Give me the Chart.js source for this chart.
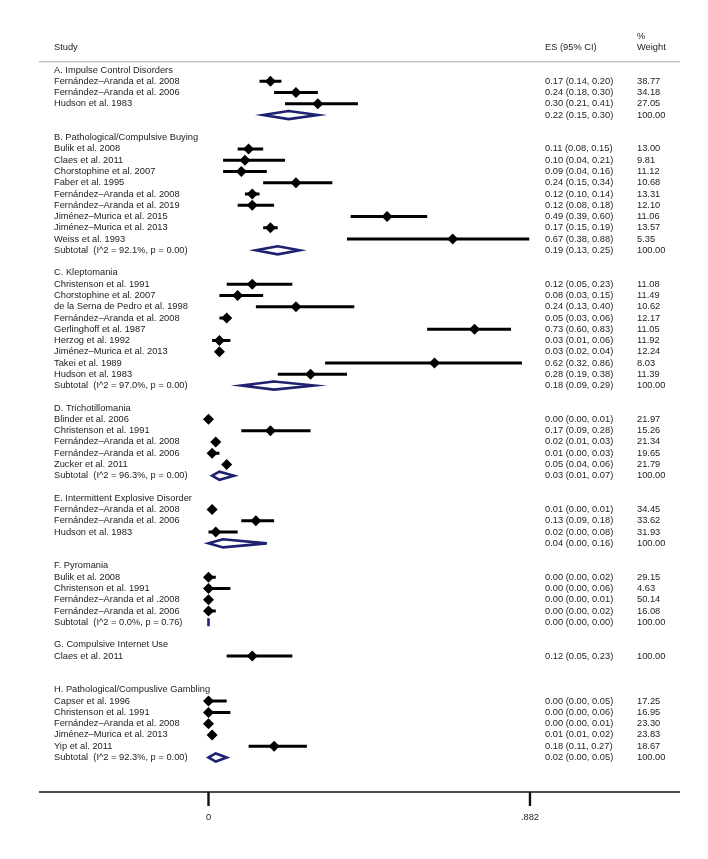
<!DOCTYPE html>
<html>
<head>
<meta charset="utf-8">
<title>Forest plot</title>
<script src="https://cdn.jsdelivr.net/npm/chart.js@4.4.1/dist/chart.umd.min.js"></script>
<style>
  html, body { margin: 0; padding: 0; background: #fff; }
  canvas { display: block; }
</style>
</head>
<body>
<canvas id="forestChart" width="708" height="859"></canvas>
<script>
// one entry per row of the plot, top to bottom
const rowType = [
    'head', 'study', 'study', 'study', 'sub', 'blank',
    'head', 'study', 'study', 'study', 'study', 'study', 'study', 'study', 'study', 'study', 'sub', 'blank',
    'head', 'study', 'study', 'study', 'study', 'study', 'study', 'study', 'study', 'study', 'sub', 'blank',
    'head', 'study', 'study', 'study', 'study', 'study', 'sub', 'blank',
    'head', 'study', 'study', 'study', 'sub', 'blank',
    'head', 'study', 'study', 'study', 'study', 'sub', 'blank',
    'head', 'study', 'blank', 'blank',
    'head', 'study', 'study', 'study', 'study', 'study', 'sub'
];

const rowLabels = [
    'A. Impulse Control Disorders', 'Fernández–Aranda et al. 2008', 'Fernández–Aranda et al. 2006', 'Hudson et al. 1983', '', '',
    'B. Pathological/Compulsive Buying', 'Bulik et al. 2008', 'Claes et al. 2011', 'Chorstophine et al. 2007', 'Faber et al. 1995',
    'Fernández–Aranda et al. 2008', 'Fernández–Aranda et al. 2019', 'Jiménez–Murica et al. 2015', 'Jiménez–Murica et al. 2013',
    'Weiss et al. 1993', 'Subtotal  (I^2 = 92.1%, p = 0.00)', '',
    'C. Kleptomania', 'Christenson et al. 1991', 'Chorstophine et al. 2007', 'de la Serna de Pedro et al. 1998',
    'Fernández–Aranda et al. 2008', 'Gerlinghoff et al. 1987', 'Herzog et al. 1992', 'Jiménez–Murica et al. 2013',
    'Takei et al. 1989', 'Hudson et al. 1983', 'Subtotal  (I^2 = 97.0%, p = 0.00)', '',
    'D. Trichotillomania', 'Blinder et al. 2006', 'Christenson et al. 1991', 'Fernández–Aranda et al. 2008',
    'Fernández–Aranda et al. 2006', 'Zucker et al. 2011', 'Subtotal  (I^2 = 96.3%, p = 0.00)', '',
    'E. Intermittent Explosive Disorder', 'Fernández–Aranda et al. 2008', 'Fernández–Aranda et al. 2006', 'Hudson et al. 1983', '', '',
    'F. Pyromania', 'Bulik et al. 2008', 'Christenson et al. 1991', 'Fernández–Aranda et al .2008', 'Fernández–Aranda et al. 2006',
    'Subtotal  (I^2 = 0.0%, p = 0.76)', '',
    'G. Compulsive Internet Use', 'Claes et al. 2011', '', '',
    'H. Pathological/Compuslive Gambling', 'Capser et al. 1996', 'Christenson et al. 1991', 'Fernández–Aranda et al. 2008',
    'Jiménez–Murica et al. 2013', 'Yip et al. 2011', 'Subtotal  (I^2 = 92.3%, p = 0.00)'
];

const es = [
    null, 0.17, 0.24, 0.30, 0.22, null,
    null, 0.11, 0.10, 0.09, 0.24, 0.12, 0.12, 0.49, 0.17, 0.67, 0.19, null,
    null, 0.12, 0.08, 0.24, 0.05, 0.73, 0.03, 0.03, 0.62, 0.28, 0.18, null,
    null, 0.00, 0.17, 0.02, 0.01, 0.05, 0.03, null,
    null, 0.01, 0.13, 0.02, 0.04, null,
    null, 0.00, 0.00, 0.00, 0.00, 0.00, null,
    null, 0.12, null, null,
    null, 0.00, 0.00, 0.00, 0.01, 0.18, 0.02
];

const ciLow = [
    null, 0.14, 0.18, 0.21, 0.15, null,
    null, 0.08, 0.04, 0.04, 0.15, 0.10, 0.08, 0.39, 0.15, 0.38, 0.13, null,
    null, 0.05, 0.03, 0.13, 0.03, 0.60, 0.01, 0.02, 0.32, 0.19, 0.09, null,
    null, 0.00, 0.09, 0.01, 0.00, 0.04, 0.01, null,
    null, 0.00, 0.09, 0.00, 0.00, null,
    null, 0.00, 0.00, 0.00, 0.00, 0.00, null,
    null, 0.05, null, null,
    null, 0.00, 0.00, 0.00, 0.01, 0.11, 0.00
];

const ciHigh = [
    null, 0.20, 0.30, 0.41, 0.30, null,
    null, 0.15, 0.21, 0.16, 0.34, 0.14, 0.18, 0.60, 0.19, 0.88, 0.25, null,
    null, 0.23, 0.15, 0.40, 0.06, 0.83, 0.06, 0.04, 0.86, 0.38, 0.29, null,
    null, 0.01, 0.28, 0.03, 0.03, 0.06, 0.07, null,
    null, 0.01, 0.18, 0.08, 0.16, null,
    null, 0.02, 0.06, 0.01, 0.02, 0.00, null,
    null, 0.23, null, null,
    null, 0.05, 0.06, 0.01, 0.02, 0.27, 0.05
];

const weight = [
    null, 38.77, 34.18, 27.05, 100.00, null,
    null, 13.00, 9.81, 11.12, 10.68, 13.31, 12.10, 11.06, 13.57, 5.35, 100.00, null,
    null, 11.08, 11.49, 10.62, 12.17, 11.05, 11.92, 12.24, 8.03, 11.39, 100.00, null,
    null, 21.97, 15.26, 21.34, 19.65, 21.79, 100.00, null,
    null, 34.45, 33.62, 31.93, 100.00, null,
    null, 29.15, 4.63, 50.14, 16.08, 100.00, null,
    null, 100.00, null, null,
    null, 17.25, 16.95, 23.30, 23.83, 18.67, 100.00
];

const axisTicks = [0, 0.882];
const axisTickLabels = ['0', '.882'];

const FONT = '9.3px "Liberation Sans", Arial, Helvetica, sans-serif';
const TEXT_COLOR = '#222';
const NAVY = '#1e2270';
const DIAMOND_HALF = 0.36; // half height of the pooled diamonds, in rows

function buildSeries() {
    const ciPoints = [];
    const markerPoints = [];
    const poolPoints = [];
    for (let i = 0; i < rowType.length; i++) {
        if (rowType[i] === 'study') {
            ciPoints.push({ x: ciLow[i], y: i }, { x: ciHigh[i], y: i }, { x: NaN, y: NaN });
            markerPoints.push({ x: es[i], y: i });
        } else if (rowType[i] === 'sub') {
            poolPoints.push(
                { x: ciLow[i], y: i },
                { x: es[i], y: i - DIAMOND_HALF },
                { x: ciHigh[i], y: i },
                { x: es[i], y: i + DIAMOND_HALF },
                { x: ciLow[i], y: i },
                { x: es[i], y: i - DIAMOND_HALF },
                { x: NaN, y: NaN }
            );
        }
    }
    return { ciPoints, markerPoints, poolPoints };
}

// columns of text and the bottom axis
const forestText = {
    id: 'forestText',
    afterDraw(chart) {
        const ctx = chart.ctx;
        const x = chart.scales.x;
        const y = chart.scales.y;
        const area = chart.chartArea;
        const studyX = 54, esX = 545, wX = 637;

        ctx.save();
        ctx.font = FONT;
        ctx.fillStyle = TEXT_COLOR;
        ctx.textBaseline = 'middle';
        ctx.textAlign = 'left';

        ctx.fillText('Study', studyX, y.getPixelForValue(-2));
        ctx.fillText('ES (95% CI)', esX, y.getPixelForValue(-2));
        ctx.fillText('%', wX, y.getPixelForValue(-3));
        ctx.fillText('Weight', wX, y.getPixelForValue(-2));

        ctx.strokeStyle = '#c4c4c4';
        ctx.lineWidth = 1.5;
        ctx.beginPath();
        ctx.moveTo(area.left, y.getPixelForValue(-0.74));
        ctx.lineTo(area.right, y.getPixelForValue(-0.74));
        ctx.stroke();

        for (let i = 0; i < rowType.length; i++) {
            const py = y.getPixelForValue(i);
            if (rowLabels[i]) ctx.fillText(rowLabels[i], studyX, py);
            if (es[i] !== null) {
                const txt = es[i].toFixed(2) + ' (' + ciLow[i].toFixed(2) + ', ' + ciHigh[i].toFixed(2) + ')';
                ctx.fillText(txt, esX, py);
                ctx.fillText(weight[i].toFixed(2), wX, py);
            }
        }

        // x axis
        ctx.strokeStyle = '#111';
        ctx.lineWidth = 1.7;
        ctx.beginPath();
        ctx.moveTo(area.left, area.bottom);
        ctx.lineTo(area.right, area.bottom);
        ctx.stroke();
        ctx.textAlign = 'center';
        ctx.lineWidth = 2.4;
        for (let t = 0; t < axisTicks.length; t++) {
            const px = x.getPixelForValue(axisTicks[t]);
            ctx.beginPath();
            ctx.moveTo(px, area.bottom);
            ctx.lineTo(px, area.bottom + 14);
            ctx.stroke();
            ctx.fillText(axisTickLabels[t], px, area.bottom + 25);
        }
        ctx.restore();
    }
};

const series = buildSeries();

new Chart(document.getElementById('forestChart'), {
    type: 'scatter',
    data: {
        datasets: [
            {
                label: 'Studies',
                data: series.markerPoints,
                pointStyle: 'rectRot',
                pointRadius: 5.5,
                backgroundColor: '#000',
                borderWidth: 0,
                order: 0
            },
            {
                label: 'Pooled',
                data: series.poolPoints,
                showLine: true,
                spanGaps: false,
                pointRadius: 0,
                borderColor: NAVY,
                borderWidth: 2.6,
                borderJoinStyle: 'miter',
                order: 1
            },
            {
                label: '95% CI',
                data: series.ciPoints,
                showLine: true,
                spanGaps: false,
                pointRadius: 0,
                borderColor: '#000',
                borderWidth: 3,
                order: 2
            }
        ]
    },
    options: {
        responsive: false,
        animation: false,
        devicePixelRatio: 1,
        layout: { padding: { left: 39, right: 28, top: 20, bottom: 67 } },
        plugins: {
            legend: { display: false },
            tooltip: { enabled: false }
        },
        scales: {
            x: { type: 'linear', min: -0.465, max: 1.2936, display: false },
            y: { type: 'linear', reverse: true, min: -4.4366, max: 64.064, display: false }
        }
    },
    plugins: [forestText]
});
</script>
</body>
</html>
